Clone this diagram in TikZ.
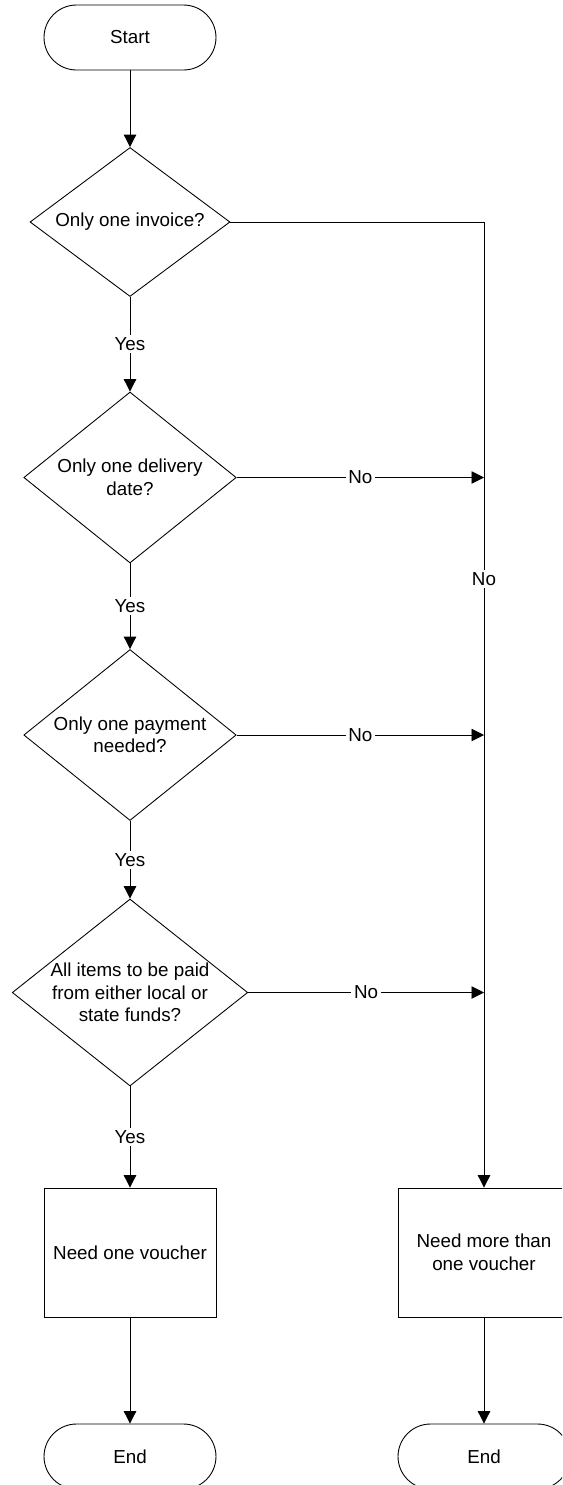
\documentclass[tikz,border=0pt]{standalone}
\usepackage{fontspec}
\setmainfont{Liberation Sans}
\usetikzlibrary{shapes.geometric, arrows.meta}

\begin{document}
\begin{tikzpicture}[x=0.02cm, y=-0.02cm, line width=0.5pt,
    >={Triangle[length=0.25cm, width=0.25cm]},
    every node/.style={font=\fontsize{10.7pt}{12.8pt}\selectfont, align=center},
    terminal/.style={draw, rectangle, rounded corners=0.65cm, minimum width=3.44cm, minimum height=1.3cm},
    decision/.style={draw, diamond, inner sep=-6pt},
    process/.style={draw, rectangle, minimum width=3.44cm, minimum height=2.58cm},
    answer/.style={fill=white, inner sep=1.5pt}]
    \clip (0, 0) rectangle (562, 1485);

    \node[terminal] (start) at (130, 37.5) {Start};
    \node[decision, minimum width=4cm, minimum height=2.98cm] (invoice) at (130, 222) {Only one invoice?};
    \node[decision, minimum width=4.25cm, minimum height=3.42cm] (delivery) at (130, 477.5) {Only one delivery\\date?};
    \node[decision, minimum width=4.25cm, minimum height=3.42cm] (payment) at (130, 735) {Only one payment\\needed?};
    \node[decision, minimum width=4.71cm, minimum height=3.74cm] (funds) at (130, 992.5) {All items to be paid\\from either local or\\state funds?};

    \node[process] (onevoucher) at (130, 1252.5) {Need one voucher};
    \node[process] (morevouchers) at (484, 1252.5) {Need more than\\one voucher};

    \node[terminal] (endone) at (130, 1456.5) {End};
    \node[terminal] (endmore) at (484, 1456.5) {End};

    % yes branch
    \draw[->] (start) -- (invoice);
    \draw[->] (invoice) -- node[answer] {Yes} (delivery);
    \draw[->] (delivery) -- node[answer] {Yes} (payment);
    \draw[->] (payment) -- node[answer] {Yes} (funds);
    \draw[->] (funds) -- node[answer] {Yes} (onevoucher);
    \draw[->] (onevoucher) -- (endone);

    % no branch
    \coordinate (corner) at (invoice.east -| morevouchers.north);
    \coordinate (joindelivery) at (delivery.east -| corner);
    \coordinate (joinpayment) at (payment.east -| corner);
    \coordinate (joinfunds) at (funds.east -| corner);

    \draw[->] (invoice.east) -- (corner) -- node[answer, pos=0.37] {No} (morevouchers);
    \draw[->] (delivery.east) -- node[answer] {No} (joindelivery);
    \draw[->] (payment.east) -- node[answer] {No} (joinpayment);
    \draw[->] (funds.east) -- node[answer] {No} (joinfunds);
    \draw[->] (morevouchers) -- (endmore);

\end{tikzpicture}
\end{document}
